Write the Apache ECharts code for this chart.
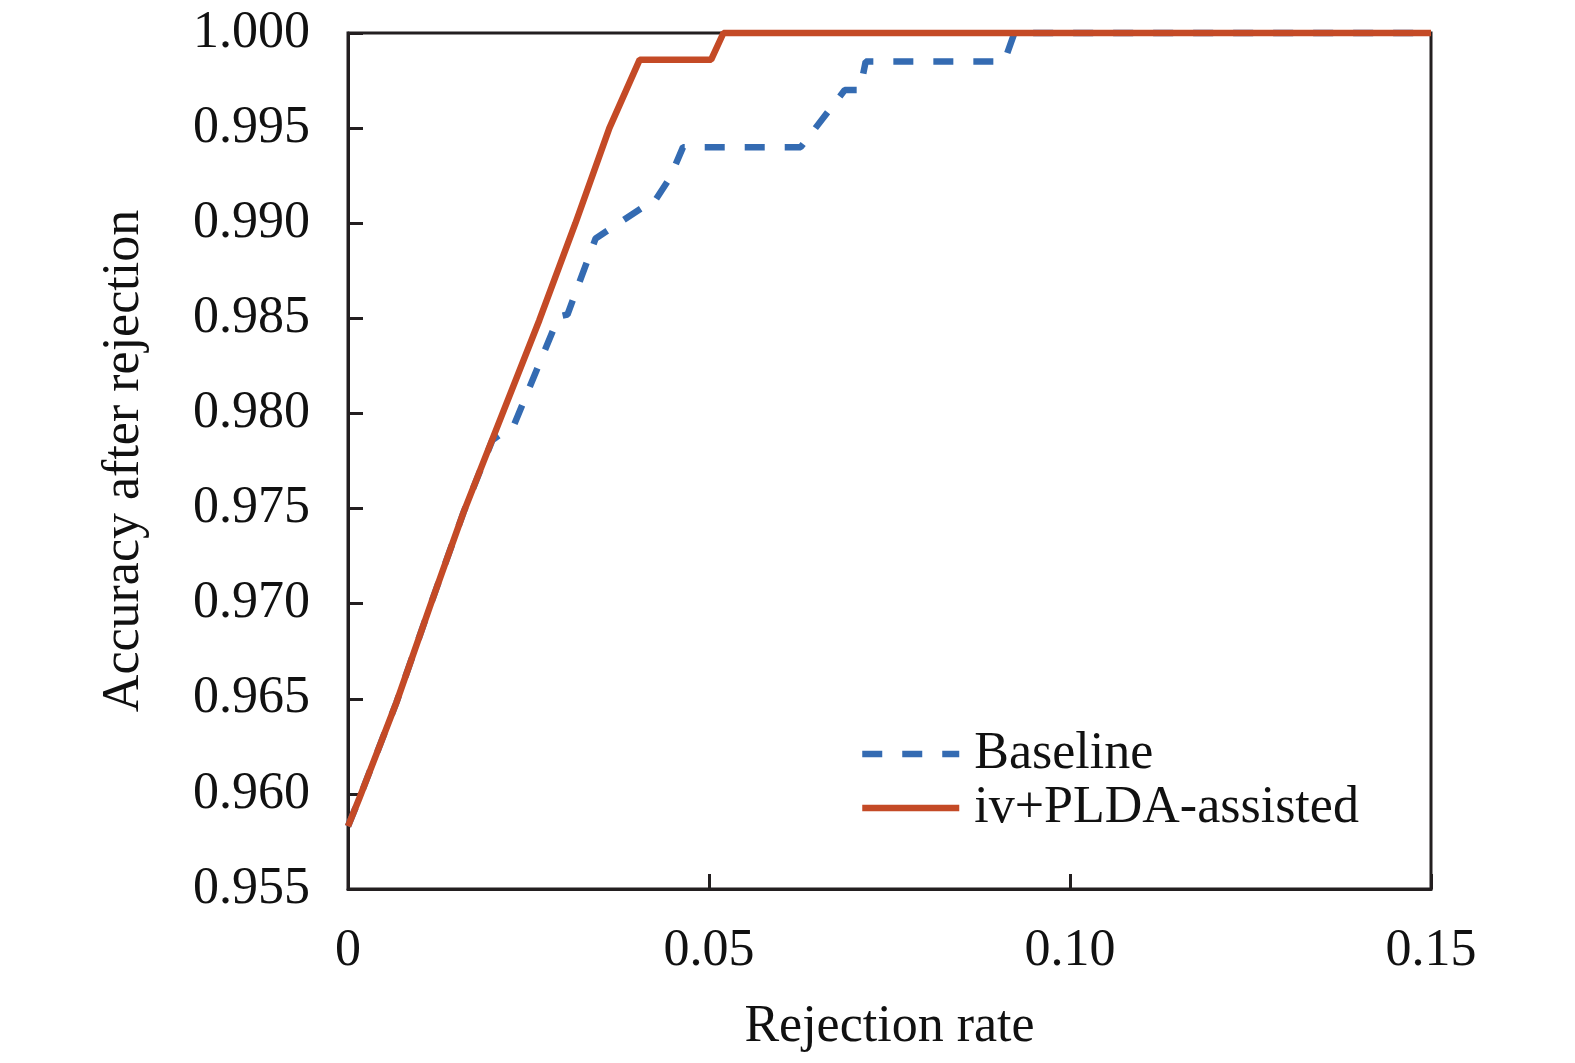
<!DOCTYPE html>
<html>
<head>
    <meta charset="utf-8">
    <title>Accuracy after rejection</title>
    <script src="https://cdn.jsdelivr.net/npm/echarts@6/dist/echarts.min.js"></script>
    <style>
        html, body { margin: 0; padding: 0; background: #fff; width: 100%; height: 100%; overflow: hidden; }
        #main { width: 100vw; height: 100vh; }
    </style>
</head>
<body>
    <div id="main"></div>
    <script type="text/javascript">
        // data: [rejection rate, accuracy]
        var seriesNames = ['Baseline', 'iv+PLDA-assisted'];
        var baseline = [
            [0, 0.9583], [0.0015, 0.9597], [0.0067, 0.9648], [0.0113, 0.9698],
            [0.0160, 0.9748], [0.0200, 0.9786], [0.0230, 0.9794], [0.0292, 0.9851],
            [0.0304, 0.9852], [0.0343, 0.9892], [0.0415, 0.9910], [0.0422, 0.9910],
            [0.0446, 0.9924], [0.0464, 0.9940], [0.0627, 0.9940], [0.0688, 0.9970],
            [0.0709, 0.9970], [0.0717, 0.9985], [0.0909, 0.9985], [0.0923, 1.0000],
            [0.15, 1.0000]
        ];
        var ivPlda = [
            [0, 0.9583], [0.0015, 0.9597], [0.0067, 0.9648], [0.0113, 0.9698],
            [0.0160, 0.9748], [0.0213, 0.9799], [0.0265, 0.9849], [0.0315, 0.9900],
            [0.0362, 0.9950], [0.0404, 0.9986], [0.0503, 0.9986], [0.0520, 1.0000],
            [0.15, 1.0000]
        ];
        var xTicks = { min: 0, max: 0.15, interval: 0.05 };
        var yTicks = { min: 0.955, max: 1.0, interval: 0.005 };

        var font = '"Liberation Serif", "Times New Roman", serif';
        var ink = '#231f20';
        var fs = 52;

        var myChart = echarts.init(document.getElementById('main'));
        myChart.setOption({
            animation: false,
            backgroundColor: '#fff',
            grid: {
                left: 348, right: 144, top: 33, bottom: 174,
                outerBoundsMode: 'none',
                containLabel: false,
                show: true, borderColor: ink, borderWidth: 3
            },
            legend: {
                orient: 'vertical',
                left: 854, top: 723,
                itemWidth: 97, itemHeight: 14, itemGap: 2,
                itemStyle: { opacity: 0 },
                lineStyle: { width: 6.5 },
                textStyle: { fontFamily: font, fontSize: fs, color: '#111', lineHeight: 52, padding: [0, 0, 0, 10] },
                data: seriesNames
            },
            xAxis: {
                type: 'value',
                min: xTicks.min, max: xTicks.max, interval: xTicks.interval,
                name: 'Rejection rate',
                nameLocation: 'middle',
                nameGap: 112,
                nameTextStyle: { fontFamily: font, fontSize: fs, color: '#111' },
                axisLine: { lineStyle: { color: ink, width: 3 } },
                axisTick: { inside: true, length: 15, lineStyle: { color: ink, width: 3 } },
                axisLabel: {
                    fontFamily: font, fontSize: fs, color: '#111', margin: 36,
                    formatter: function (v) { return v === 0 ? '0' : v.toFixed(2); }
                },
                splitLine: { show: false }
            },
            yAxis: {
                type: 'value',
                min: yTicks.min, max: yTicks.max, interval: yTicks.interval,
                name: 'Accuracy after rejection',
                nameLocation: 'middle',
                nameGap: 198,
                nameTextStyle: { fontFamily: font, fontSize: fs, color: '#111' },
                axisLine: { lineStyle: { color: ink, width: 3 } },
                axisTick: { inside: true, length: 15, lineStyle: { color: ink, width: 3 } },
                axisLabel: {
                    fontFamily: font, fontSize: fs, color: '#111', margin: 38,
                    formatter: function (v) { return v.toFixed(3); }
                },
                splitLine: { show: false }
            },
            series: [{
                name: seriesNames[0],
                type: 'line',
                data: baseline,
                symbol: 'none',
                clip: false,
                z: 3,
                color: '#346bb2',
                lineStyle: { color: '#346bb2', width: 6.5, type: [20, 20] }
            }, {
                name: seriesNames[1],
                type: 'line',
                data: ivPlda,
                symbol: 'none',
                clip: false,
                z: 4,
                color: '#c44a26',
                lineStyle: { color: '#c44a26', width: 6.5 }
            }]
        });
    </script>
</body>
</html>
